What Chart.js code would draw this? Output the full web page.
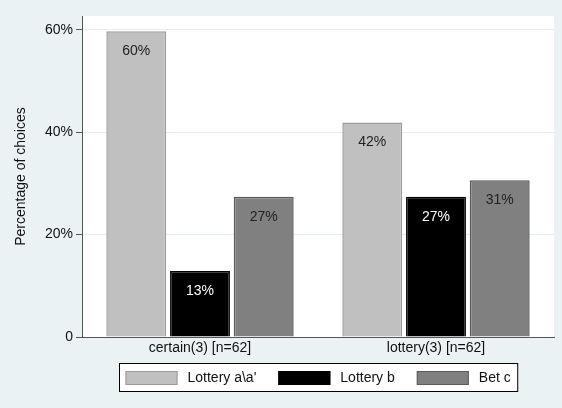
<!DOCTYPE html>
<html>
<head>
<meta charset="utf-8">
<script src="https://cdn.jsdelivr.net/npm/chart.js@4/dist/chart.umd.min.js"></script>
<style>
  html, body { margin: 0; padding: 0; background: #eaf2f3; }
  #wrap { width: 562px; height: 408px; }
</style>
</head>
<body>
<div id="wrap"><canvas id="barChart" width="562" height="408"></canvas></div>
<script>
  'use strict';

  // data (percent of choices, n=62 per group)
  var categories = ['certain(3) [n=62]', 'lottery(3) [n=62]'];
  var seriesNames = ["Lottery a\\a'", 'Lottery b', 'Bet c'];
  var lotteryA = [59.7, 41.9];
  var lotteryB = [12.9, 27.4];
  var betC = [27.4, 30.6];
  var yTicks = [0, 20, 40, 60];

  var FONT = 'Liberation Sans, Arial, sans-serif';

  // background + white plot region
  var bgPlugin = {
    id: 'bg',
    beforeDraw: function (chart) {
      var ctx = chart.ctx, a = chart.chartArea;
      ctx.save();
      ctx.fillStyle = '#eaf2f3';
      ctx.fillRect(0, 0, chart.width, chart.height);
      ctx.fillStyle = '#ffffff';
      ctx.fillRect(a.left, a.top, a.right - a.left, a.bottom - a.top);
      ctx.restore();
    }
  };

  // value labels just inside the top of each bar
  var labelPlugin = {
    id: 'barLabels',
    afterDatasetsDraw: function (chart) {
      var ctx = chart.ctx;
      ctx.save();
      ctx.font = '14px ' + FONT;
      ctx.textAlign = 'center';
      ctx.textBaseline = 'middle';
      chart.data.datasets.forEach(function (ds, i) {
        var meta = chart.getDatasetMeta(i);
        meta.data.forEach(function (bar, j) {
          ctx.fillStyle = ds.labelColor;
          ctx.fillText(Math.round(ds.data[j]) + '%', bar.x, bar.y + 20);
        });
      });
      ctx.restore();
    }
  };

  // boxed legend centred under the plot region
  var legendPlugin = {
    id: 'boxLegend',
    afterDraw: function (chart) {
      var ctx = chart.ctx, a = chart.chartArea;
      var sw = 52, sh = 14, gapText = 10, gapItem = 22, pad = 6;
      ctx.save();
      ctx.font = '14px ' + FONT;
      var widths = chart.data.datasets.map(function (ds) { return ctx.measureText(ds.label).width; });
      var total = pad * 2;
      widths.forEach(function (w, i) { total += sw + gapText + w + (i < widths.length - 1 ? gapItem : 0); });
      total += 1;
      var cx = (a.left + a.right) / 2;
      var x0 = Math.round(cx - total / 2) + 0.5, y0 = 363.5, h = 28;
      ctx.fillStyle = '#ffffff';
      ctx.fillRect(x0, y0, total, h);
      ctx.strokeStyle = '#000000';
      ctx.lineWidth = 1;
      ctx.strokeRect(x0, y0, total, h);
      var x = x0 + pad;
      chart.data.datasets.forEach(function (ds, i) {
        ctx.fillStyle = ds.backgroundColor;
        ctx.fillRect(x, y0 + 7.5, sw, sh);
        ctx.strokeStyle = ds.borderColor;
        ctx.strokeRect(x + 0.5, y0 + 8, sw - 1, sh - 1);
        ctx.fillStyle = '#111111';
        ctx.textAlign = 'left';
        ctx.textBaseline = 'middle';
        ctx.fillText(ds.label, x + sw + gapText, y0 + h / 2 + 1);
        x += sw + gapText + widths[i] + gapItem;
      });
      ctx.restore();
    }
  };

  var barData = {
    labels: categories,
    datasets: [{
      label: seriesNames[0],
      data: lotteryA,
      backgroundColor: '#c0c0c0',
      borderColor: '#9c9c9c',
      labelColor: '#222222'
    }, {
      label: seriesNames[1],
      data: lotteryB,
      backgroundColor: '#000000',
      borderColor: '#000000',
      labelColor: '#ffffff'
    }, {
      label: seriesNames[2],
      data: betC,
      backgroundColor: '#808080',
      borderColor: '#5a5a5a',
      labelColor: '#222222'
    }]
  };

  var barOptions = {
    responsive: false,
    animation: false,
    layout: { padding: { left: 13, right: 8, top: 16, bottom: 50 } },
    datasets: {
      bar: { borderWidth: 1.5, categoryPercentage: 0.81, barPercentage: 0.94 }
    },
    plugins: {
      legend: { display: false },
      tooltip: { enabled: false }
    },
    scales: {
      x: {
        grid: { display: false, drawTicks: false },
        border: { display: true, color: '#555555', width: 1 },
        ticks: { color: '#111111', padding: 3, font: { family: FONT, size: 14 } },
        afterFit: function (scale) { scale.height = 21; }
      },
      y: {
        min: 0,
        max: 62.7,
        afterBuildTicks: function (scale) {
          scale.ticks = yTicks.map(function (v) { return { value: v }; });
        },
        grid: { color: '#e4eef0', tickColor: '#555555', tickLength: 6 },
        border: { display: true, color: '#555555', width: 1 },
        ticks: {
          color: '#111111',
          padding: 3,
          font: { family: FONT, size: 14 },
          callback: function (v) { return v === 0 ? '0' : v + '%'; }
        },
        title: {
          display: true,
          text: 'Percentage of choices',
          color: '#111111',
          padding: { top: 0, bottom: 0 },
          font: { family: FONT, size: 14 }
        },
        afterFit: function (scale) { scale.width = 69; }
      }
    }
  };

  var barCanvas = document.getElementById('barChart').getContext('2d');
  var barChart = new Chart(barCanvas, {
    type: 'bar',
    data: barData,
    options: barOptions,
    plugins: [bgPlugin, labelPlugin, legendPlugin]
  });
</script>
</body>
</html>
